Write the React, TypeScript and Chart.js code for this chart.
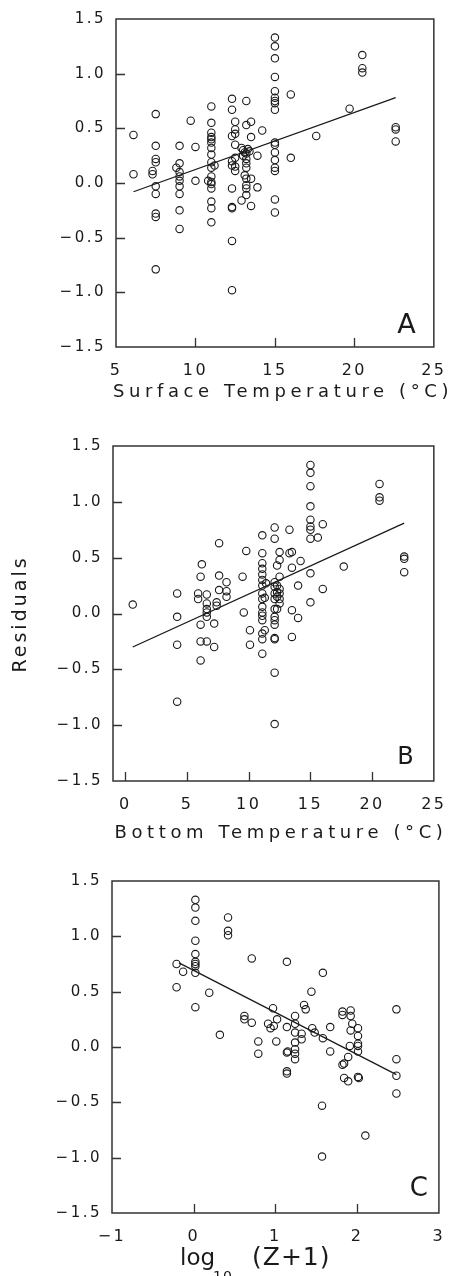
import React, { useEffect, useRef } from "react";
import { Chart, registerables } from "chart.js";

Chart.register(...registerables);

const FONT = "'DejaVu Sans', sans-serif";
const INK = "#1a1a1a";

// ---------- Panel A: surface temperature ----------
const surfaceTemp = [
  6.1, 6.1,
  7.5, 7.5, 7.5, 7.5, 7.3, 7.3, 7.5, 7.5, 7.5, 7.5, 7.5,
  9.0, 9.0, 8.8, 9.0, 9.0, 9.0, 9.0, 9.0, 9.0, 9.0,
  9.7, 10.0, 10.0,
  11.0, 11.0, 11.0, 11.0, 11.0, 11.0, 11.0, 11.0, 11.0, 11.0, 11.2, 11.0, 11.0, 11.0, 11.0, 11.0, 11.0, 11.0, 10.8,
  12.3, 12.3, 12.5, 12.5, 12.3, 12.5, 12.5, 12.3, 12.5, 12.3, 12.5, 12.5, 12.3, 12.3, 12.3, 12.3, 12.3,
  13.2, 13.2, 13.5, 13.5, 12.9, 13.0, 13.1, 13.2, 13.0, 13.2, 13.2, 13.1, 13.5, 13.2, 13.2, 13.2, 13.2, 12.9, 13.5, 13.9, 13.9, 14.2, 13.3, 13.4, 13.2,
  15.0, 15.0, 15.0, 15.0, 15.0, 15.0, 15.0, 15.0, 15.0, 15.0, 15.0, 15.0, 15.0, 15.0, 15.0, 15.0, 15.0,
  16.0, 16.0, 17.6, 19.7, 20.5, 20.5, 20.5, 22.6, 22.6, 22.6,
];
const surfaceResid = [
  0.44, 0.08,
  0.63, 0.34, 0.22, 0.19, 0.11, 0.08, -0.03, -0.1, -0.28, -0.31, -0.79,
  0.34, 0.18, 0.14, 0.1, 0.06, 0.02, -0.03, -0.1, -0.25, -0.42,
  0.57, 0.33, 0.02,
  0.7, 0.55, 0.46, 0.42, 0.4, 0.37, 0.32, 0.26, 0.19, 0.14, 0.16, 0.06, 0.01, -0.01, -0.05, -0.17, -0.23, -0.36, 0.02,
  0.77, 0.67, 0.56, 0.49, 0.43, 0.45, 0.35, 0.2, 0.23, 0.16, 0.15, 0.11, -0.05, -0.22, -0.23, -0.53, -0.98,
  0.75, 0.53, 0.56, 0.42, 0.32, 0.3, 0.28, 0.27, 0.25, 0.22, 0.14, 0.07, 0.04, 0.04, -0.02, -0.05, -0.11, -0.16, -0.21, 0.25, -0.04, 0.48, 0.31, 0.29, 0.18,
  1.33, 1.25, 1.14, 0.97, 0.84, 0.78, 0.75, 0.73, 0.67, 0.37, 0.35, 0.28, 0.21, 0.14, 0.11, -0.15, -0.27,
  0.81, 0.23, 0.43, 0.68, 1.17, 1.05, 1.01, 0.51, 0.49, 0.38,
];
const surfaceFitX = [6.1, 22.6];
const surfaceFitY = [-0.08, 0.78];

// ---------- Panel B: bottom temperature ----------
const bottomTemp = [
  0.6,
  4.2, 4.2, 4.2, 4.2,
  5.9, 5.9, 6.1, 6.2, 6.1, 6.1, 6.1,
  6.6, 6.6, 6.6, 6.6, 6.6, 6.6,
  7.2, 7.2, 7.4, 7.4, 7.6, 7.6, 7.6,
  8.2, 8.2, 8.2,
  9.5, 9.8, 9.6, 10.1, 10.1,
  11.1, 11.1, 11.1, 11.1, 11.1, 11.1, 11.1, 11.1, 11.1, 11.1, 11.1, 11.1, 11.1, 11.1, 11.1, 11.1, 11.3, 11.3, 11.4,
  12.1, 12.1, 12.1, 12.1, 12.1, 12.1, 12.1, 12.1, 12.1, 12.1, 12.1, 12.1, 12.1, 12.1,
  12.5, 12.5, 12.3, 12.5, 12.3, 12.5, 12.3, 12.5, 12.3, 12.5, 12.5, 12.3,
  13.3, 13.3, 13.5, 13.5, 14.2, 14.0, 13.5, 14.0, 13.5,
  15.0, 15.0, 15.0, 15.0, 15.0, 15.0, 15.0, 15.0, 15.0, 15.6, 16.0, 15.0, 16.0,
  17.7, 20.6, 20.6, 20.6, 22.6, 22.6, 22.6,
];
const bottomResid = [
  0.08,
  0.18, -0.03, -0.28, -0.79,
  0.18, 0.13, 0.33, 0.44, -0.1, -0.25, -0.42,
  0.17, 0.09, 0.04, 0.01, -0.03, -0.25,
  -0.09, -0.3, 0.1, 0.07, 0.21, 0.63, 0.34,
  0.28, 0.2, 0.15,
  0.33, 0.56, 0.01, -0.15, -0.28,
  0.7, 0.54, 0.45, 0.4, 0.35, 0.3, 0.25, 0.18, 0.13, 0.06, 0.01, -0.02, -0.06, -0.18, -0.23, -0.36, -0.15, 0.14, 0.27,
  0.77, 0.67, 0.28, 0.24, 0.18, 0.13, 0.04, -0.03, -0.06, -0.1, -0.22, -0.23, -0.53, -0.99,
  0.55, 0.48, 0.43, 0.33, 0.25, 0.22, 0.19, 0.18, 0.15, 0.13, 0.09, 0.04,
  0.75, 0.54, 0.55, 0.41, 0.47, 0.25, 0.03, -0.04, -0.21,
  1.33, 1.26, 1.14, 0.96, 0.84, 0.78, 0.75, 0.67, 0.36, 0.68, 0.8, 0.1, 0.22,
  0.42, 1.16, 1.04, 1.01, 0.51, 0.49, 0.37,
];
const bottomFitX = [0.6, 22.6];
const bottomFitY = [-0.3, 0.81];

// ---------- Panel C: log10(Z+1) ----------
const logDepth = [
  0.02, 0.02, 0.02, 0.02, 0.02, 0.02, 0.02, 0.02, 0.02, 0.02,
  -0.21, -0.13, -0.21, 0.19,
  0.42, 0.42, 0.42,
  0.71, 1.14, 1.58, 1.44,
  0.97, 1.35, 1.37, 1.24,
  0.62, 0.62, 0.71,
  0.91, 0.94, 0.98, 1.02,
  1.14, 1.24, 0.32,
  1.45, 1.48, 1.58, 1.67,
  1.82, 1.82, 1.92, 1.92, 1.94, 1.92, 2.01, 2.01, 2.48,
  0.79, 0.79, 1.01,
  1.14, 1.15, 1.14, 1.14,
  1.24, 1.24, 1.24, 1.24, 1.24,
  1.32, 1.32, 1.67,
  1.82, 1.84, 1.84, 1.89, 1.89, 1.91,
  2.01, 2.01, 2.01, 2.01, 2.02,
  1.57, 1.57, 2.1,
  2.48, 2.48, 2.48,
];
const logResid = [
  1.33, 1.26, 1.14, 0.96, 0.84, 0.77, 0.75, 0.73, 0.67, 0.36,
  0.75, 0.68, 0.54, 0.49,
  1.17, 1.05, 1.01,
  0.8, 0.77, 0.67, 0.5,
  0.35, 0.38, 0.34, 0.28,
  0.28, 0.25, 0.22,
  0.21, 0.17, 0.19, 0.25,
  0.18, 0.21, 0.11,
  0.17, 0.13, 0.08, 0.18,
  0.32, 0.29, 0.33, 0.28, 0.21, 0.15, 0.17, 0.1, 0.34,
  0.05, -0.06, 0.05,
  -0.05, -0.04, -0.22, -0.24,
  0.13, 0.04, -0.02, -0.06, -0.11,
  0.12, 0.07, -0.04,
  -0.16, -0.15, -0.28, -0.31, -0.09, 0.01,
  0.03, 0.01, -0.04, -0.27, -0.28,
  -0.53, -0.99, -0.8,
  -0.11, -0.26, -0.42,
];
const logFitX = [-0.18, 2.48];
const logFitY = [0.76, -0.25];

// ---------- tick labels ----------
const residTicks = [-1.5, -1.0, -0.5, 0.0, 0.5, 1.0, 1.5];
const surfaceTicks = [5, 10, 15, 20, 25];
const bottomTicks = [0, 5, 10, 15, 20, 25];
const depthTicks = [-1, 0, 1, 2, 3];

const fmtY = (v: number) => (v < 0 ? "\u2212" : "") + Math.abs(v).toFixed(1);
const fmtX = (v: number) => (v < 0 ? "\u2212" : "") + String(Math.abs(v));

type PanelCfg = {
  top: number;
  height: number;
  padTop: number;
  padRight: number;
  yWidth: number;
  xHeight: number;
  xMin: number;
  xMax: number;
  xTicks: number[];
  xs: number[];
  ys: number[];
  fitX: number[];
  fitY: number[];
  letter: string;
  letterSize: number;
  letterDx: number;
  letterDy: number;
  drawTitle: (ctx: CanvasRenderingContext2D) => void;
};

function spaced(ctx: CanvasRenderingContext2D, s: string) {
  (ctx as any).letterSpacing = s;
}

const panels: PanelCfg[] = [
  {
    top: 0,
    height: 420,
    padTop: 15,
    padRight: 10,
    yWidth: 116,
    xHeight: 73,
    xMin: 5,
    xMax: 25,
    xTicks: surfaceTicks,
    xs: surfaceTemp,
    ys: surfaceResid,
    fitX: surfaceFitX,
    fitY: surfaceFitY,
    letter: "A",
    letterSize: 27,
    letterDx: 18,
    letterDy: 14,
    drawTitle: (ctx) => {
      ctx.font = `18px ${FONT}`;
      spaced(ctx, "4.6px");
      ctx.textAlign = "center";
      ctx.textBaseline = "alphabetic";
      ctx.fillText("Surface Temperature (°C)", 283, 397);
    },
  },
  {
    top: 420,
    height: 430,
    padTop: 26,
    padRight: 12,
    yWidth: 113,
    xHeight: 69,
    xMin: -1,
    xMax: 25,
    xTicks: bottomTicks,
    xs: bottomTemp,
    ys: bottomResid,
    fitX: bottomFitX,
    fitY: bottomFitY,
    letter: "B",
    letterSize: 24,
    letterDx: 20,
    letterDy: 17,
    drawTitle: (ctx) => {
      ctx.font = `18px ${FONT}`;
      spaced(ctx, "4.6px");
      ctx.textAlign = "center";
      ctx.textBaseline = "alphabetic";
      ctx.fillText("Bottom Temperature (°C)", 281, 418);
      ctx.save();
      ctx.translate(21, 194);
      ctx.rotate(-Math.PI / 2);
      ctx.font = `19px ${FONT}`;
      spaced(ctx, "3px");
      ctx.textBaseline = "middle";
      ctx.fillText("Residuals", 0, 0);
      ctx.restore();
    },
  },
  {
    top: 850,
    height: 426,
    padTop: 31,
    padRight: 12,
    yWidth: 112,
    xHeight: 63,
    xMin: -1,
    xMax: 3,
    xTicks: depthTicks,
    xs: logDepth,
    ys: logResid,
    fitX: logFitX,
    fitY: logFitY,
    letter: "C",
    letterSize: 26,
    letterDx: 11,
    letterDy: 17,
    drawTitle: (ctx) => {
      ctx.textAlign = "left";
      ctx.textBaseline = "alphabetic";
      ctx.font = `23px ${FONT}`;
      spaced(ctx, "0px");
      ctx.fillText("log", 180, 415);
      ctx.font = `14px ${FONT}`;
      spaced(ctx, "1px");
      ctx.fillText("10", 213, 431);
      ctx.font = `25px ${FONT}`;
      spaced(ctx, "1px");
      ctx.fillText("(Z+1)", 252, 415);
    },
  },
];

function Panel({ cfg }: { cfg: PanelCfg }) {
  const ref = useRef<HTMLCanvasElement | null>(null);

  useEffect(() => {
    const canvas = ref.current;
    if (!canvas) return;

    const framePlugin = {
      id: "frameAndLabels",
      beforeDraw(chart: any) {
        spaced(chart.ctx, "2.5px");
      },
      afterDraw(chart: any) {
        const ctx: CanvasRenderingContext2D = chart.ctx;
        const a = chart.chartArea;
        const xs = chart.scales.x;
        const ys = chart.scales.y;
        ctx.save();
        ctx.strokeStyle = "#333";
        ctx.lineWidth = 1.5;
        ctx.strokeRect(a.left, a.top, a.right - a.left, a.bottom - a.top);
        ctx.lineWidth = 1.3;
        ctx.beginPath();
        cfg.xTicks.forEach((v) => {
          if (v === cfg.xMin || v === cfg.xMax) return;
          const px = Math.round(xs.getPixelForValue(v)) + 0.5;
          ctx.moveTo(px, a.bottom);
          ctx.lineTo(px, a.bottom - 9);
        });
        residTicks.forEach((v) => {
          if (v === -1.5 || v === 1.5) return;
          const py = Math.round(ys.getPixelForValue(v)) + 0.5;
          ctx.moveTo(a.left, py);
          ctx.lineTo(a.left + 9, py);
        });
        ctx.stroke();
        ctx.fillStyle = INK;
        ctx.font = `${cfg.letterSize}px ${FONT}`;
        spaced(ctx, "0px");
        ctx.textAlign = "right";
        ctx.textBaseline = "alphabetic";
        ctx.fillText(cfg.letter, a.right - cfg.letterDx, a.bottom - cfg.letterDy);
        cfg.drawTitle(ctx);
        ctx.restore();
      },
    };

    const chart = new Chart(canvas, {
      type: "scatter",
      data: {
        datasets: [
          {
            data: cfg.xs.map((x, i) => ({ x, y: cfg.ys[i] })),
            pointStyle: "circle",
            pointRadius: 3.7,
            pointBorderWidth: 1.1,
            borderColor: INK,
            pointBorderColor: INK,
            backgroundColor: "rgba(0,0,0,0)",
            pointBackgroundColor: "rgba(0,0,0,0)",
          },
          {
            data: cfg.fitX.map((x, i) => ({ x, y: cfg.fitY[i] })),
            showLine: true,
            pointRadius: 0,
            borderColor: INK,
            borderWidth: 1.3,
            backgroundColor: "rgba(0,0,0,0)",
          },
        ],
      },
      options: {
        responsive: false,
        animation: false,
        devicePixelRatio: 1,
        events: [],
        layout: {
          padding: { top: cfg.padTop, right: cfg.padRight, left: 0, bottom: 0 },
          autoPadding: false,
        },
        plugins: {
          legend: { display: false },
          tooltip: { enabled: false },
        },
        scales: {
          x: {
            type: "linear",
            position: "bottom",
            min: cfg.xMin,
            max: cfg.xMax,
            afterBuildTicks: (s: any) => {
              s.ticks = cfg.xTicks.map((value) => ({ value }));
            },
            afterFit: (s: any) => {
              s.height = cfg.xHeight;
            },
            grid: { display: false, drawTicks: false },
            border: { display: false },
            ticks: {
              autoSkip: false,
              maxRotation: 0,
              padding: 14,
              color: INK,
              font: { family: FONT, size: 16 },
              callback: (v: any) => fmtX(Number(v)),
            },
          },
          y: {
            type: "linear",
            position: "left",
            min: -1.5,
            max: 1.5,
            afterBuildTicks: (s: any) => {
              s.ticks = residTicks.map((value) => ({ value }));
            },
            afterFit: (s: any) => {
              s.width = cfg.yWidth;
            },
            grid: { display: false, drawTicks: false },
            border: { display: false },
            ticks: {
              autoSkip: false,
              padding: 10,
              color: INK,
              font: { family: FONT, size: 15 },
              callback: (v: any) => fmtY(Number(v)),
            },
          },
        },
      },
      plugins: [framePlugin],
    } as any);

    return () => chart.destroy();
  }, [cfg]);

  return (
    <canvas
      ref={ref}
      width={458}
      height={cfg.height}
      style={{
        position: "absolute",
        left: 0,
        top: cfg.top,
        width: 458,
        height: cfg.height,
        display: "block",
      }}
    />
  );
}

export default function App() {
  return (
    <div
      style={{
        position: "absolute",
        left: 0,
        top: 0,
        width: 458,
        height: 1276,
        background: "#fff",
        overflow: "hidden",
      }}
    >
      {panels.map((p) => (
        <Panel key={p.letter} cfg={p} />
      ))}
    </div>
  );
}
